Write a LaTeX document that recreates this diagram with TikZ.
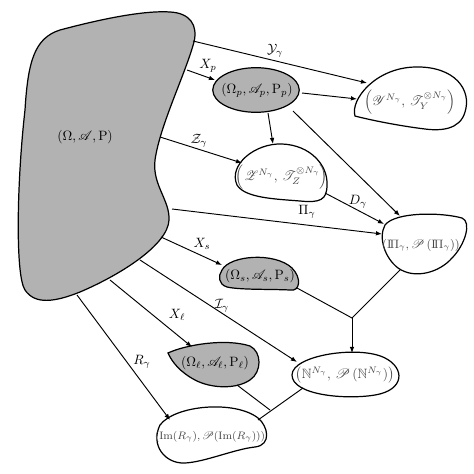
\documentclass[tikz,border=0pt]{standalone}
\usepackage{amssymb,mathrsfs}
\usetikzlibrary{arrows.meta,shapes.geometric}
\newcommand{\dPi}{\mathrm{I}\mkern-2.5mu\Pi}
\begin{document}
\begin{tikzpicture}[x=0.74pt,y=-0.74pt,
  blobline/.style={line width=0.9pt},
  grayblob/.style={blobline,fill=black!30},
  whiteblob/.style={blobline,fill=white},
  conn/.style={line width=0.7pt},
  arr/.style={conn,-{Latex[length=4.5pt,width=3.4pt]}},
  lab/.style={inner sep=0pt},
  wtext/.style={inner sep=0pt,text=black!72},
  gtext/.style={inner sep=0pt,text=black}
]
\useasboundingbox (0,0) rectangle (474,474);

% big blob
\draw[grayblob] (25,110) .. controls (28,60) and (35,38) .. (60,30)
  .. controls (90,22) and (140,10) .. (170,12)
  .. controls (190,13) and (198,25) .. (194,42)
  .. controls (185,75) and (160,125) .. (155,160)
  .. controls (152,185) and (170,200) .. (169,220)
  .. controls (168,245) and (120,275) .. (80,292)
  .. controls (55,302) and (35,305) .. (25,290)
  .. controls (15,275) and (17,180) .. (25,110) -- cycle;
\node[gtext] (omega) at (85,137) {$(\Omega,\mathscr{A},\mathrm{P})$};

% p
\node[ellipse,draw,line width=0.9pt,fill=black!30,minimum width=64pt,minimum height=33pt,inner sep=0pt] (pshape) at (256,90) {};
\node[gtext] (p) at (257,90) {$(\Omega_p,\mathscr{A}_p,\mathrm{P}_p)$};

% Y
\draw[whiteblob] (355,116) .. controls (350,100) and (375,68) .. (415,67)
  .. controls (455,66) and (472,90) .. (465,112)
  .. controls (460,130) and (440,131) .. (425,129)
  .. controls (400,126) and (370,120) .. (355,116) -- cycle;
\node[wtext] (Y) at (410,102) {$\Bigl(\mathscr{Y}^{N_\gamma},\,\mathscr{T}_Y^{\otimes N_\gamma}\Bigr)$};

% Z
\draw[whiteblob] (237,185) .. controls (228,165) and (255,143) .. (282,144)
  .. controls (310,145) and (328,165) .. (327,185)
  .. controls (327,200) and (320,203) .. (300,201)
  .. controls (275,199) and (245,198) .. (237,185) -- cycle;
\node[wtext] (Z) at (282,177) {$\Bigl(\mathscr{Z}^{N_\gamma},\,\mathscr{T}_Z^{\otimes N_\gamma}\Bigr)$};

% Pi
\draw[whiteblob] (385,225) .. controls (395,212) and (440,212) .. (462,218)
  .. controls (472,222) and (465,245) .. (452,258)
  .. controls (440,272) and (415,280) .. (398,268)
  .. controls (385,258) and (378,238) .. (385,225) -- cycle;
\node[wtext,font=\small] (Pi) at (421,245) {$(\dPi_\gamma,\mathscr{P}\,(\dPi_\gamma))$};

% s
\draw[grayblob] (222,270) .. controls (230,255) and (275,252) .. (292,268)
  .. controls (302,278) and (300,292) .. (290,290)
  .. controls (270,289) and (240,290) .. (227,287)
  .. controls (218,284) and (218,276) .. (222,270) -- cycle;
\node[gtext] (s) at (260,276) {$(\Omega_s,\mathscr{A}_s,\mathrm{P}_s)$};

% l
\draw[grayblob] (168,353) .. controls (185,345) and (225,338) .. (250,346)
  .. controls (262,352) and (262,372) .. (250,380)
  .. controls (235,390) and (210,388) .. (195,380)
  .. controls (180,372) and (172,362) .. (168,353) -- cycle;
\node[gtext] (l) at (215,363) {$(\Omega_\ell,\mathscr{A}_\ell,\mathrm{P}_\ell)$};

% N
\draw[whiteblob] (292,375) .. controls (292,355) and (360,345) .. (385,358)
  .. controls (405,368) and (405,390) .. (375,395)
  .. controls (345,400) and (292,395) .. (292,375) -- cycle;
\node[wtext] (N) at (345,375) {$\bigl(\mathbb{N}^{N_\gamma},\,\mathscr{P}\,(\mathbb{N}^{N_\gamma})\bigr)$};

% Im
\draw[whiteblob] (160,425) .. controls (175,405) and (235,400) .. (258,418)
  .. controls (268,426) and (272,445) .. (255,447)
  .. controls (235,449) and (205,462) .. (185,463)
  .. controls (165,464) and (150,445) .. (160,425) -- cycle;
\node[wtext,font=\footnotesize] (Im) at (210,437) {$(\mathrm{Im}(R_\gamma),\mathscr{P}(\mathrm{Im}(R_\gamma)))$};

% connector end points
\coordinate (b1) at (193,41);   \coordinate (y1) at (367,83);
\coordinate (b2) at (187,70);   \coordinate (p1) at (215,80);
\coordinate (p2) at (302,93);   \coordinate (y2) at (357,99);
\coordinate (p3) at (268,113);  \coordinate (z1) at (273,144);
\coordinate (p4) at (293,111);  \coordinate (pi1) at (400,216);
\coordinate (b3) at (160,137);  \coordinate (z2) at (242,163);
\coordinate (z3) at (325,193);  \coordinate (pi2) at (384,224);
\coordinate (b4) at (172,209);  \coordinate (pi3) at (382,234);
\coordinate (b5) at (161,237);  \coordinate (s1) at (222,265);
\coordinate (b6) at (140,260);  \coordinate (n1) at (297,362);
\coordinate (b7) at (110,280);  \coordinate (l1) at (192,347);
\coordinate (b8) at (77,295);   \coordinate (im1) at (170,420);
\coordinate (s2) at (297,288);  \coordinate (pi4) at (400,270);
\coordinate (J) at (352,318);   \coordinate (n2) at (352,353);
\coordinate (l2) at (237,385);  \coordinate (K) at (270,410);
\coordinate (n3) at (303,388);  \coordinate (im2) at (258,420);

\draw[arr] (b1) -- (y1);
\draw[arr] (b2) -- (p1);
\draw[arr] (p2) -- (y2);
\draw[arr] (p3) -- (z1);
\draw[arr] (p4) -- (pi1);
\draw[arr] (b3) -- (z2);
\draw[arr] (z3) -- (pi2);
\draw[arr] (b4) -- (pi3);
\draw[arr] (b5) -- (s1);
\draw[arr] (b6) -- (n1);
\draw[arr] (b7) -- (l1);
\draw[arr] (b8) -- (im1);
\draw[conn] (s2) -- (J) -- (pi4);
\draw[arr] (J) -- (n2);
\draw[conn] (l2) -- (K);
\draw[conn] (n3) -- (im2);

% edge labels
\node[lab] (lY) at (275,51) {$\mathcal{Y}_\gamma$};
\node[lab] (lXp) at (208,66) {$X_p$};
\node[lab] (lZ) at (199,141) {$\mathcal{Z}_\gamma$};
\node[lab] (lD) at (358,202) {$D_\gamma$};
\node[lab] (lPi) at (307,212) {$\Pi_\gamma$};
\node[lab] (lXs) at (202,244) {$X_s$};
\node[lab] (lI) at (222,306) {$\mathcal{I}_\gamma$};
\node[lab] (lXl) at (177,315) {$X_\ell$};
\node[lab] (lR) at (142,362) {$R_\gamma$};
\end{tikzpicture}
\end{document}
